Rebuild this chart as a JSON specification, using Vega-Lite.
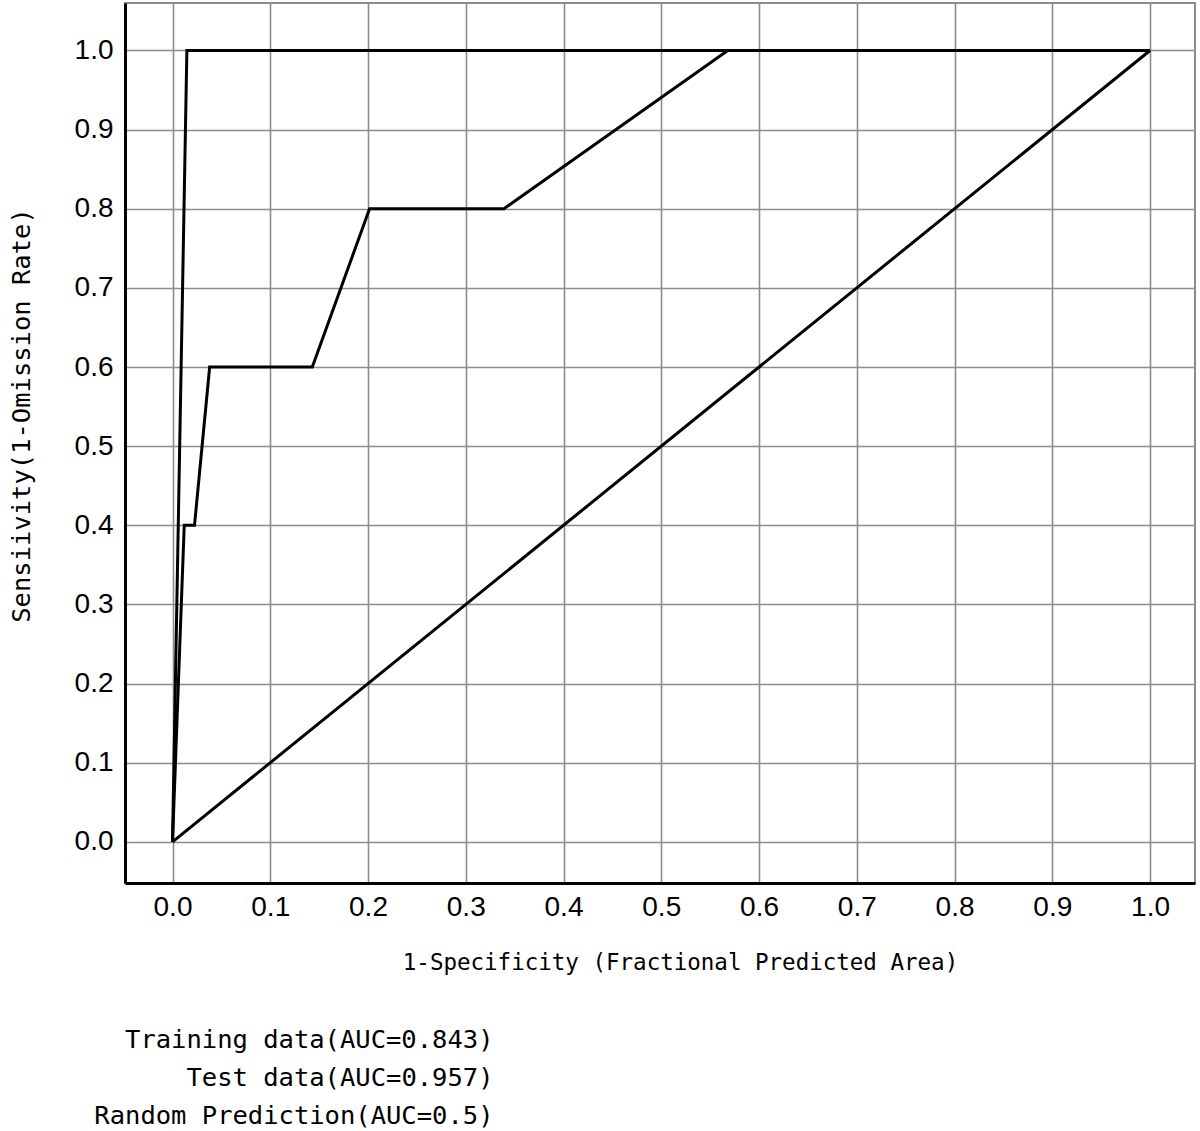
{
  "$schema": "https://vega.github.io/schema/vega-lite/v6.json",
  "autosize": {"type": "none"},
  "padding": {"left": 125, "top": 3, "right": 5, "bottom": 248},
  "width": 1070,
  "height": 880,
  "background": "white",
  "config": {
    "view": {"stroke": "#8c8c8c", "strokeWidth": 2},
    "axis": {"gridColor": "#8c8c8c", "gridWidth": 1.6, "gridOpacity": 1, "ticks": false}
  },
  "data": {"values": [
    {"series": "Training data(AUC=0.843)", "ord": 1, "x": 0.0, "y": 0.0},
    {"series": "Training data(AUC=0.843)", "ord": 2, "x": 0.012, "y": 0.4},
    {"series": "Training data(AUC=0.843)", "ord": 3, "x": 0.0225, "y": 0.4},
    {"series": "Training data(AUC=0.843)", "ord": 4, "x": 0.038, "y": 0.6},
    {"series": "Training data(AUC=0.843)", "ord": 5, "x": 0.143, "y": 0.6},
    {"series": "Training data(AUC=0.843)", "ord": 6, "x": 0.2016, "y": 0.8},
    {"series": "Training data(AUC=0.843)", "ord": 7, "x": 0.339, "y": 0.8},
    {"series": "Training data(AUC=0.843)", "ord": 8, "x": 0.568, "y": 1.0},
    {"series": "Training data(AUC=0.843)", "ord": 9, "x": 1.0, "y": 1.0},
    {"series": "Test data(AUC=0.957)", "ord": 1, "x": 0.0, "y": 0.0},
    {"series": "Test data(AUC=0.957)", "ord": 2, "x": 0.0147, "y": 1.0},
    {"series": "Test data(AUC=0.957)", "ord": 3, "x": 1.0, "y": 1.0},
    {"series": "Random Prediction(AUC=0.5)", "ord": 1, "x": 0.0, "y": 0.0},
    {"series": "Random Prediction(AUC=0.5)", "ord": 2, "x": 1.0, "y": 1.0}
  ]},
  "mark": {"type": "line", "strokeWidth": 3, "clip": true},
  "encoding": {
    "x": {
      "field": "x", "type": "quantitative",
      "scale": {"domain": [-0.0486, 1.046], "nice": false, "zero": false},
      "axis": {
        "values": [0, 0.1, 0.2, 0.3, 0.4, 0.5, 0.6, 0.7, 0.8, 0.9, 1.0],
        "format": ".1f",
        "title": "1-Specificity (Fractional Predicted Area)",
        "titleFont": "DejaVu Sans Mono", "titleFontSize": 22.5, "titleFontWeight": "normal",
        "titleColor": "black", "titlePadding": 30, "titleX": 555,
        "labelFont": "Liberation Sans", "labelFontSize": 28, "labelColor": "black",
        "labelPadding": 10,
        "domainColor": "black", "domainWidth": 3
      }
    },
    "y": {
      "field": "y", "type": "quantitative",
      "scale": {"domain": [-0.052, 1.06], "nice": false, "zero": false},
      "axis": {
        "values": [0, 0.1, 0.2, 0.3, 0.4, 0.5, 0.6, 0.7, 0.8, 0.9, 1.0],
        "format": ".1f",
        "title": "Sensiivity(1-Omission Rate)",
        "titleFont": "DejaVu Sans Mono", "titleFontSize": 25.5, "titleFontWeight": "normal",
        "titleColor": "black", "titleX": -96, "titleY": 412, "titleAngle": -90,
        "titleAlign": "center", "titleBaseline": "alphabetic",
        "labelFont": "Liberation Sans", "labelFontSize": 28, "labelColor": "black",
        "labelPadding": 12,
        "domainColor": "black", "domainWidth": 3
      }
    },
    "order": {"field": "ord", "type": "quantitative"},
    "detail": {"field": "series"},
    "color": {
      "field": "series", "type": "nominal",
      "scale": {
        "domain": ["Training data(AUC=0.843)", "Test data(AUC=0.957)", "Random Prediction(AUC=0.5)"],
        "range": ["black", "black", "black"]
      },
      "legend": {
        "title": null,
        "orient": "none",
        "legendX": 343,
        "legendY": 1024,
        "symbolOpacity": 0,
        "symbolSize": 0,
        "symbolStrokeWidth": 0,
        "labelAlign": "right",
        "labelOffset": 0,
        "labelLimit": 0,
        "labelFont": "DejaVu Sans Mono",
        "labelFontSize": 25.5,
        "labelColor": "black",
        "rowPadding": 11
      }
    }
  }
}
